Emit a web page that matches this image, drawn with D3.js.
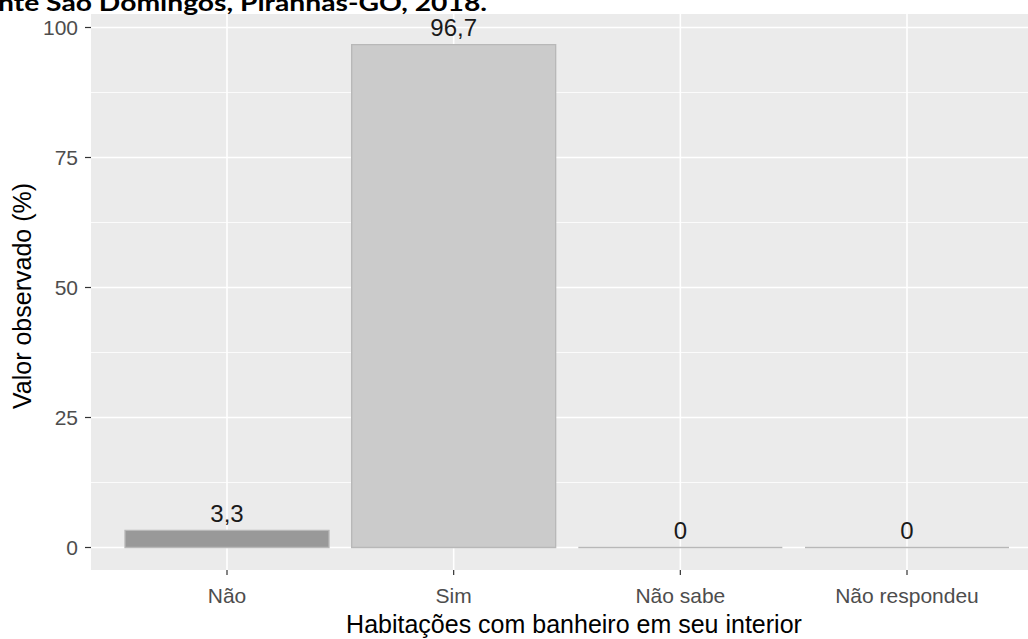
<!DOCTYPE html>
<html>
<head>
<meta charset="utf-8">
<script src="https://cdn.jsdelivr.net/npm/d3@7"></script>
<style>
  html, body { margin: 0; padding: 0; background: #ffffff; }
  svg { display: block; }
</style>
</head>
<body>
<svg id="chart" width="1028" height="639"></svg>
<script>
const titleText = "nte São Domingos, Piranhas-GO, 2018.";
const categories = ["Não", "Sim", "Não sabe", "Não respondeu"];
const values = [3.3, 96.7, 0, 0];
const valueLabels = ["3,3", "96,7", "0", "0"];
const barFills = ["#999999", "#cbcbcb", "#d6d6d6", "#d6d6d6"];
const yTicks = [0, 25, 50, 75, 100];
const yMinor = [12.5, 37.5, 62.5, 87.5];
const xTitle = "Habitações com banheiro em seu interior";
const yTitle = "Valor observado (%)";

const svg = d3.select("#chart");
const panel = { left: 91, top: 14, bottom: 570 };

const x = d3.scaleLinear().domain([1, 4]).range([227, 907]);
const panelRight = x(4.6);
const y = d3.scaleLinear().domain([0, 100]).range([547.5, 27.5]);

svg.append("rect")
  .attr("x", panel.left).attr("y", panel.top)
  .attr("width", panelRight - panel.left).attr("height", panel.bottom - panel.top)
  .attr("fill", "#ebebeb");

svg.append("g").selectAll("line").data(yMinor).join("line")
  .attr("x1", panel.left).attr("x2", panelRight)
  .attr("y1", d => y(d)).attr("y2", d => y(d))
  .attr("stroke", "#ffffff").attr("stroke-width", 0.8);

svg.append("g").selectAll("line").data(yTicks).join("line")
  .attr("x1", panel.left).attr("x2", panelRight)
  .attr("y1", d => y(d)).attr("y2", d => y(d))
  .attr("stroke", "#ffffff").attr("stroke-width", 1.6);
svg.append("g").selectAll("line").data(categories).join("line")
  .attr("x1", (d, i) => x(i + 1)).attr("x2", (d, i) => x(i + 1))
  .attr("y1", panel.top).attr("y2", panel.bottom)
  .attr("stroke", "#ffffff").attr("stroke-width", 1.6);

// bars as paths so zero-height bars still show their outline
const half = 0.45;
svg.append("g").selectAll("path").data(values).join("path")
  .attr("d", (d, i) => {
    const x0 = x(i + 1 - half), x1 = x(i + 1 + half);
    const y0 = y(0), y1 = y(d);
    return `M${x0},${y0}H${x1}V${y1}H${x0}Z`;
  })
  .attr("fill", (d, i) => barFills[i])
  .attr("stroke", "#b8b8b8").attr("stroke-width", 1.3);

svg.append("g").selectAll("text").data(values).join("text")
  .attr("x", (d, i) => x(i + 1))
  .attr("y", d => y(d) - 8.5)
  .attr("text-anchor", "middle")
  .attr("font-family", "Liberation Sans, Arial, sans-serif")
  .attr("font-size", 24)
  .attr("fill", "#1a1a1a")
  .text((d, i) => valueLabels[i]);

const yAxis = svg.append("g");
yAxis.selectAll("line").data(yTicks).join("line")
  .attr("x1", panel.left - 6).attr("x2", panel.left)
  .attr("y1", d => y(d)).attr("y2", d => y(d))
  .attr("stroke", "#333333").attr("stroke-width", 1.2);
yAxis.selectAll("text").data(yTicks).join("text")
  .attr("x", panel.left - 13).attr("y", d => y(d))
  .attr("dy", "0.35em")
  .attr("text-anchor", "end")
  .attr("font-family", "Liberation Sans, Arial, sans-serif")
  .attr("font-size", 21)
  .attr("fill", "#4d4d4d")
  .text(d => d);

const xAxis = svg.append("g");
xAxis.selectAll("line").data(categories).join("line")
  .attr("x1", (d, i) => x(i + 1)).attr("x2", (d, i) => x(i + 1))
  .attr("y1", panel.bottom).attr("y2", panel.bottom + 5)
  .attr("stroke", "#333333").attr("stroke-width", 1.2);
xAxis.selectAll("text").data(categories).join("text")
  .attr("x", (d, i) => x(i + 1)).attr("y", 603)
  .attr("text-anchor", "middle")
  .attr("font-family", "Liberation Sans, Arial, sans-serif")
  .attr("font-size", 21)
  .attr("fill", "#4d4d4d")
  .text(d => d);

svg.append("text")
  .attr("x", 574).attr("y", 633)
  .attr("text-anchor", "middle")
  .attr("font-family", "Liberation Sans, Arial, sans-serif")
  .attr("font-size", 25)
  .attr("fill", "#000000")
  .text(xTitle);

svg.append("text")
  .attr("transform", `translate(31, 296) rotate(-90)`)
  .attr("text-anchor", "middle")
  .attr("font-family", "Liberation Sans, Arial, sans-serif")
  .attr("font-size", 25)
  .attr("fill", "#000000")
  .text(yTitle);

svg.append("text")
  .attr("x", -2).attr("y", 11)
  .attr("font-family", "Lato, Open Sans, sans-serif")
  .attr("font-weight", "bold")
  .attr("font-size", 22)
  .attr("fill", "#000000")
  .attr("textLength", 489)
  .attr("lengthAdjust", "spacingAndGlyphs")
  .text(titleText);
</script>
</body>
</html>
